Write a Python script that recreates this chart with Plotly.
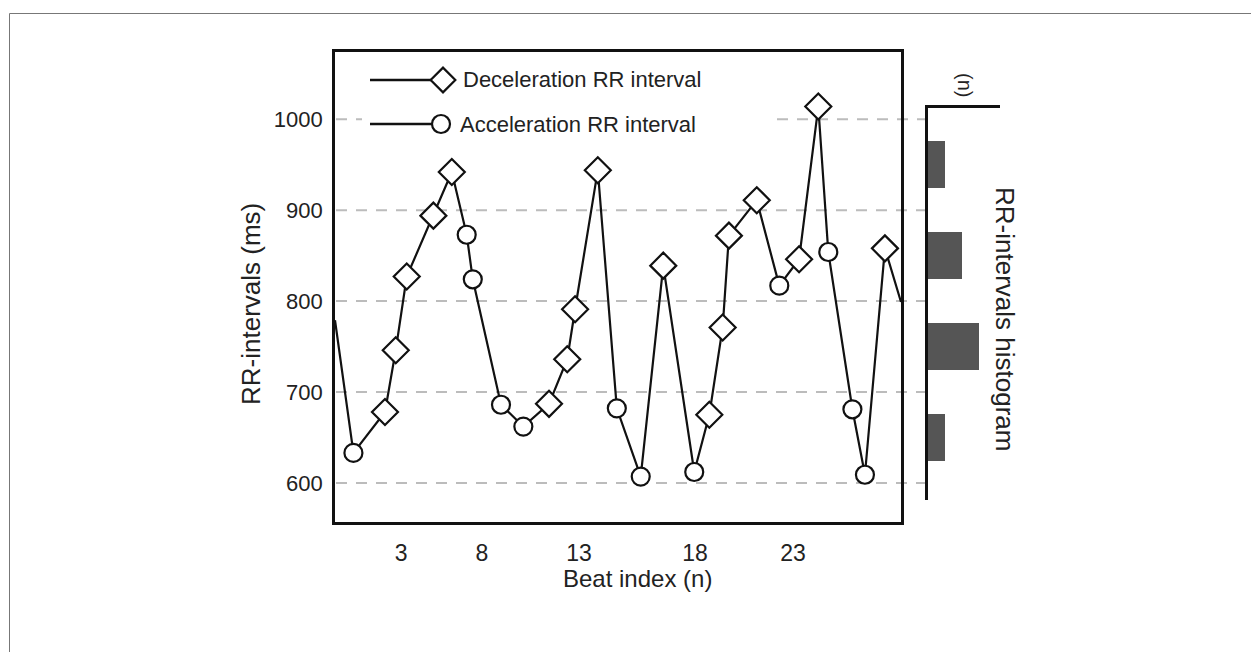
import plotly.graph_objects as go

# ---------------- data ----------------
beat_pos = [-0.37, 0.57, 2.18, 2.73, 3.29, 4.65, 5.59, 6.35, 6.66, 8.10, 9.24,
            10.55, 11.48, 11.88, 13.04, 14.01, 15.23, 16.38, 17.96, 18.73, 19.41,
            19.73, 21.15, 22.30, 23.31, 24.29, 24.80, 26.03, 26.67, 27.69, 28.51]
rr_ms = [779, 633, 678, 746, 827, 894, 942, 873, 824, 686, 662,
         687, 736, 791, 944, 682, 607, 839, 612, 675, 771,
         872, 911, 817, 846, 1014, 854, 681, 609, 858, 799]
# D = deceleration (RR longer than previous), A = acceleration, '' = off-plot continuation
beat_kind = ['', 'A', 'D', 'D', 'D', 'D', 'D', 'A', 'A', 'A', 'A',
             'D', 'D', 'D', 'D', 'A', 'A', 'D', 'A', 'D', 'D',
             'D', 'D', 'A', 'D', 'D', 'A', 'A', 'A', 'D', '']

x_tick_pos = [3.0, 7.12, 12.08, 18.0, 23.0]
x_tick_text = ["3", "8", "13", "18", "23"]
y_ticks = [600, 700, 800, 900, 1000]

hist_bins = [950, 850, 750, 650]
hist_counts = [1, 2, 3, 1]

# ---------------- layout helpers ----------------
W, H = 1251, 652
def px(x):
    return x / W
def py(y):
    return 1 - y / H

FONT = "Liberation Sans, Arial, Helvetica, sans-serif"
TXT = "#222222"
GRID = "#bcbcbc"
DASH = "11px,9px"
INK = "#111111"

fig = go.Figure()

# main line
fig.add_trace(go.Scatter(x=beat_pos, y=rr_ms, mode="lines",
                         line=dict(color=INK, width=2.2),
                         showlegend=False, hoverinfo="skip"))
dx = [x for x, k in zip(beat_pos, beat_kind) if k == 'D']
dy = [y for y, k in zip(rr_ms, beat_kind) if k == 'D']
ax_ = [x for x, k in zip(beat_pos, beat_kind) if k == 'A']
ay = [y for y, k in zip(rr_ms, beat_kind) if k == 'A']
fig.add_trace(go.Scatter(x=dx, y=dy, mode="markers",
                         marker=dict(symbol="diamond", size=20, color="white",
                                     line=dict(color=INK, width=2.2)),
                         showlegend=False))
fig.add_trace(go.Scatter(x=ax_, y=ay, mode="markers",
                         marker=dict(symbol="circle", size=18, color="white",
                                     line=dict(color=INK, width=2.2)),
                         showlegend=False))

# histogram
fig.add_trace(go.Bar(x=hist_counts, y=hist_bins, orientation="h", width=52,
                     marker=dict(color="#555555", line=dict(width=0)),
                     xaxis="x2", yaxis="y2", showlegend=False))

# legend samples on a pixel overlay axis
leg_y = [80, 124]
fig.add_trace(go.Scatter(x=[370, 443], y=[leg_y[0]] * 2, mode="lines",
                         line=dict(color=INK, width=2.5),
                         xaxis="x3", yaxis="y3", showlegend=False, hoverinfo="skip"))
fig.add_trace(go.Scatter(x=[443], y=[leg_y[0]], mode="markers",
                         marker=dict(symbol="diamond", size=19, color="white",
                                     line=dict(color=INK, width=2.2)),
                         xaxis="x3", yaxis="y3", showlegend=False, hoverinfo="skip"))
fig.add_trace(go.Scatter(x=[370, 441], y=[leg_y[1]] * 2, mode="lines",
                         line=dict(color=INK, width=2.5),
                         xaxis="x3", yaxis="y3", showlegend=False, hoverinfo="skip"))
fig.add_trace(go.Scatter(x=[441], y=[leg_y[1]], mode="markers",
                         marker=dict(symbol="circle", size=18, color="white",
                                     line=dict(color=INK, width=2.2)),
                         xaxis="x3", yaxis="y3", showlegend=False, hoverinfo="skip"))

# axis geometry (value ranges consistent with gridline pixel positions)
def v_at(ypix):
    return 800 + (301.1 - ypix) / 0.9091

shapes = []
# dashed gridlines, running past the box up to the histogram axis;
# the top one is interrupted by the legend area
for v in y_ticks:
    if v == max(y_ticks):
        segs = [(336, 362), (777, 926)]
    else:
        segs = [(336, 926)]
    for a, b in segs:
        shapes.append(dict(type="line", xref="paper", yref="y",
                           x0=px(a), x1=px(b), y0=v, y1=v,
                           line=dict(color=GRID, width=2, dash=DASH), layer="below"))
# outer frame (top and left edges)
shapes.append(dict(type="line", xref="paper", yref="paper",
                   x0=px(9.5), x1=px(1251), y0=py(13.5), y1=py(13.5),
                   line=dict(color="#777777", width=1)))
shapes.append(dict(type="line", xref="paper", yref="paper",
                   x0=px(9.5), x1=px(9.5), y0=py(13.5), y1=py(652),
                   line=dict(color="#777777", width=1)))

annotations = [
    dict(text="Deceleration RR interval", x=px(461), y=py(leg_y[0]), xref="paper", yref="paper",
         xanchor="left", yanchor="middle", showarrow=False, font=dict(size=22, color=TXT, family=FONT)),
    dict(text="Acceleration RR interval", x=px(458), y=py(leg_y[1]), xref="paper", yref="paper",
         xanchor="left", yanchor="middle", showarrow=False, font=dict(size=22, color=TXT, family=FONT)),
    dict(text="RR-intervals (ms)", x=px(251), y=py(304), xref="paper", yref="paper",
         textangle=-90, xanchor="center", yanchor="middle", showarrow=False,
         font=dict(size=26, color=TXT, family=FONT)),
    dict(text="Beat index (n)", x=px(637), y=py(578), xref="paper", yref="paper",
         xanchor="center", yanchor="middle", showarrow=False,
         font=dict(size=24, color=TXT, family=FONT)),
    dict(text="RR-intervals histogram", x=px(1005), y=py(319), xref="paper", yref="paper",
         textangle=90, xanchor="center", yanchor="middle", showarrow=False,
         font=dict(size=26, color=TXT, family=FONT)),
    dict(text="(n)", x=px(965), y=py(85), xref="paper", yref="paper",
         textangle=90, xanchor="center", yanchor="middle", showarrow=False,
         font=dict(size=20, color=TXT, family=FONT)),
]

fig.update_layout(
    width=W, height=H,
    margin=dict(l=0, r=0, t=0, b=0),
    paper_bgcolor="white", plot_bgcolor="rgba(0,0,0,0)",
    font=dict(family=FONT, color=TXT),
    showlegend=False,
    bargap=0,
    xaxis=dict(domain=[px(335), px(901)], range=[-0.37, 28.51],
               showline=True, mirror=True, linecolor=INK, linewidth=2.8,
               showgrid=False, zeroline=False, ticks="",
               tickvals=x_tick_pos, ticktext=x_tick_text,
               tickfont=dict(size=23, color=TXT), ticklabelstandoff=9, anchor="y"),
    yaxis=dict(domain=[py(521.7), py(52)], range=[v_at(521.7), v_at(52)],
               showline=True, mirror=True, linecolor=INK, linewidth=2.8,
               showgrid=False, zeroline=False, ticks="", tickvals=y_ticks,
               tickfont=dict(size=22, color=TXT), ticklabelstandoff=5, anchor="x"),
    xaxis2=dict(domain=[px(928), px(1000)], range=[0, 72 / 17.0], side="top",
                showline=True, linecolor=INK, linewidth=2.5,
                showgrid=False, zeroline=False, showticklabels=False, ticks="",
                anchor="y2"),
    yaxis2=dict(domain=[py(500), py(108)], range=[v_at(500), v_at(108)],
                showline=True, linecolor=INK, linewidth=2.5,
                showgrid=False, zeroline=False, showticklabels=False, ticks="",
                anchor="x2"),
    xaxis3=dict(domain=[0, 1], range=[0, W], visible=False, anchor="y3"),
    yaxis3=dict(domain=[0, 1], range=[H, 0], visible=False, anchor="x3"),
    shapes=shapes,
    annotations=annotations,
)

fig.write_html("out.html")
